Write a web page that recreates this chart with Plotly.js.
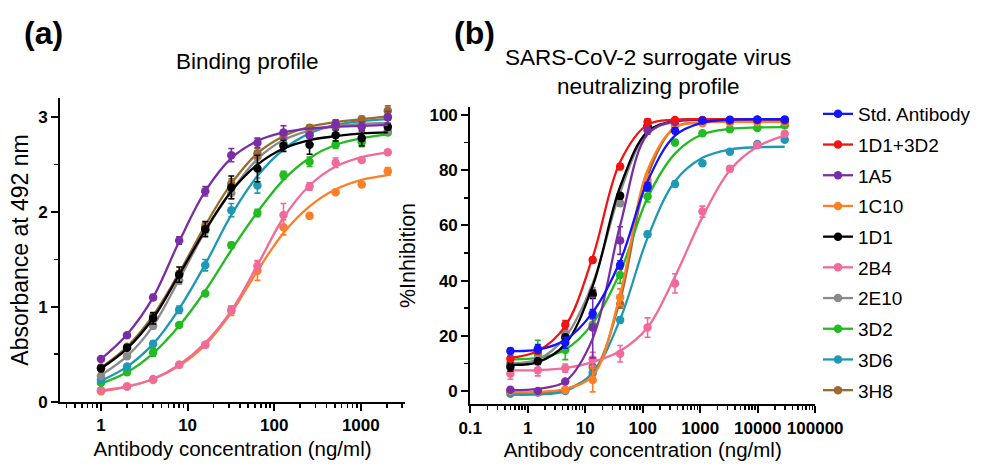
<!DOCTYPE html>
<html>
<head>
<meta charset="utf-8">
<script src="https://cdn.plot.ly/plotly-3.0.1.min.js"></script>
<style>html,body{margin:0;padding:0;background:#fff;}#chart{width:986px;height:465px;}</style>
</head>
<body>
<div id="chart"></div>
<script>
// ---------- Data ----------
const seriesNames = ["Std. Antibody","1D1+3D2","1A5","1C10","1D1","2B4","2E10","3D2","3D6","3H8"];
const seriesColors = ["#1414ff","#f01414","#7a2ea6","#ff7f27","#000000","#f06a9c","#8a8a8a","#22bb22","#1f98b4","#9c6a2e"];

// Panel (a): binding profile (absorbance at 492 nm)
const concA = [1,2,4,8,16,32,64,128,256,512,1024,2048];
const tickValsA = [1,10,100,1000];
const tickTextA = ["1","10","100","1000"];
// measured means
const absA = {
  "1A5":  [0.45,0.70,1.10,1.70,2.22,2.60,2.73,2.84,2.81,2.92,2.90,3.00],
  "3H8":  [0.36,0.58,0.90,1.35,1.85,2.30,2.62,2.82,2.89,2.94,2.98,3.07],
  "2E10": [0.27,0.48,0.80,1.28,1.80,2.20,2.58,2.78,2.87,2.90,2.93,2.86],
  "1D1":  [0.35,0.57,0.88,1.34,1.82,2.26,2.46,2.70,2.71,2.81,2.78,2.90],
  "3D6":  [0.23,0.37,0.61,0.97,1.44,2.02,2.28,2.72,2.84,2.91,2.95,3.00],
  "3D2":  [0.20,0.31,0.52,0.81,1.14,1.65,1.99,2.39,2.53,2.71,2.74,2.84],
  "2B4":  [0.12,0.16,0.24,0.39,0.60,0.97,1.43,1.97,2.27,2.52,2.55,2.63],
  "1C10": [0.11,0.16,0.23,0.39,0.60,0.96,1.38,1.84,1.96,2.21,2.29,2.43]
};
const errA = {
  "1A5":  [0.02,0.02,0.03,0.04,0.05,0.07,0.05,0.07,0.03,0.05,0.05,0.06],
  "3H8":  [0.02,0.02,0.03,0.03,0.04,0.05,0.05,0.04,0.03,0.03,0.03,0.05],
  "2E10": [0.02,0.02,0.03,0.04,0.05,0.06,0.06,0.05,0.04,0.04,0.04,0.03],
  "1D1":  [0.03,0.03,0.06,0.08,0.08,0.12,0.14,0.06,0.10,0.06,0.08,0.03],
  "3D6":  [0.02,0.02,0.03,0.04,0.06,0.07,0.08,0.05,0.03,0.04,0.04,0.03],
  "3D2":  [0.02,0.02,0.04,0.02,0.02,0.03,0.04,0.04,0.05,0.04,0.05,0.02],
  "2B4":  [0.01,0.01,0.01,0.02,0.02,0.04,0.06,0.12,0.04,0.05,0.02,0.02],
  "1C10": [0.01,0.01,0.01,0.02,0.02,0.05,0.10,0.08,0.02,0.02,0.02,0.04]
};
// fitted curve values read at the same concentrations
const fitA = {
  "1A5":  [0.45,0.71,1.10,1.69,2.22,2.57,2.75,2.84,2.88,2.90,2.91,2.92],
  "3H8":  [0.36,0.58,0.91,1.36,1.86,2.30,2.62,2.80,2.90,2.95,2.98,3.01],
  "2E10": [0.28,0.48,0.80,1.29,1.80,2.22,2.56,2.76,2.86,2.91,2.93,2.94],
  "1D1":  [0.35,0.56,0.88,1.34,1.81,2.22,2.50,2.67,2.76,2.80,2.83,2.84],
  "3D6":  [0.22,0.37,0.61,0.98,1.45,1.97,2.38,2.66,2.83,2.92,2.96,2.98],
  "3D2":  [0.19,0.31,0.51,0.80,1.17,1.60,2.00,2.34,2.57,2.71,2.78,2.82],
  "2B4":  [0.12,0.16,0.24,0.39,0.62,0.96,1.44,1.94,2.28,2.48,2.58,2.63],
  "1C10": [0.11,0.16,0.24,0.38,0.60,0.94,1.38,1.78,2.06,2.24,2.34,2.39]
};
const drawOrderA = ["1C10","2B4","3D2","3D6","2E10","3H8","1D1","1A5"];

// Panel (b): surrogate virus neutralization (% inhibition)
const concB = [0.5,1.5,4.5,13.5,40.5,121.5,364.5,1093.5,3280.5,9841.5,29524.5];
const tickValsB = [0.1,1,10,100,1000,10000,100000];
const tickTextB = ["0.1","1","10","100","1000","10000","100000"];
const inhB = {
  "Std. Antibody": [14.5,15.3,17.5,28.0,45.7,74.0,94.3,98.0,98.3,98.4,98.4],
  "1D1+3D2":       [11.7,14.6,24.0,47.5,81.3,97.5,98.2,98.2,98.2,98.2,98.0],
  "1A5":           [0.5,0.0,3.5,23.0,54.5,94.5,97.5,98.0,98.0,98.2,98.2],
  "1C10":          [0.0,-0.2,0.4,4.0,34.0,76.5,96.0,97.0,97.3,97.5,97.5],
  "1D1":           [8.7,10.8,19.5,35.0,70.7,95.8,97.8,98.0,98.0,98.0,98.0],
  "2B4":           [6.3,7.5,8.3,11.5,13.5,23.0,39.0,65.0,80.5,89.0,93.2],
  "2E10":          [9.5,11.5,21.0,36.0,68.0,96.0,97.8,98.0,98.0,98.0,98.0],
  "3D2":           [10.0,13.4,14.9,24.0,42.0,70.5,90.0,93.4,94.8,95.3,96.3],
  "3D6":           [-1.0,-0.5,0.0,6.5,25.7,56.8,75.0,82.5,86.7,89.5,91.0],
  "3H8":           [0.0,-0.3,0.5,8.7,31.5,75.0,96.5,97.3,97.5,97.6,97.6]
};
const errB = {
  "Std. Antibody": [1.0,1.5,2.0,1.5,1.5,1.5,1.0,0.5,0.5,0.5,0.5],
  "1D1+3D2":       [1.0,1.0,1.5,1.0,1.0,1.0,0.5,0.5,0.5,0.5,0.5],
  "1A5":           [0.5,0.5,0.5,11.0,5.0,1.5,0.5,0.5,0.5,0.5,0.5],
  "1C10":          [0.5,0.5,0.5,4.3,3.0,2.0,1.0,0.5,0.5,0.5,0.5],
  "1D1":           [1.5,1.0,1.0,1.5,1.0,0.5,0.5,0.5,0.5,0.5,0.5],
  "2B4":           [2.0,2.0,1.5,2.5,3.0,3.5,3.5,2.0,1.0,0.5,0.5],
  "2E10":          [1.0,1.0,1.5,1.5,1.0,0.5,0.5,0.5,0.5,0.5,0.5],
  "3D2":           [1.5,5.0,3.5,2.0,3.0,2.0,1.0,0.5,0.5,0.5,0.5],
  "3D6":           [0.5,0.5,0.5,1.0,1.0,1.0,1.0,0.5,0.5,0.5,0.5],
  "3H8":           [0.5,0.5,0.5,1.0,1.5,1.5,0.5,0.5,0.5,0.5,0.5]
};
const fitB = {
  "Std. Antibody": [14.5,15.0,18.5,28.5,47.0,76.0,92.5,97.2,98.3,98.5,98.5],
  "1D1+3D2":       [12.0,14.5,23.5,48.5,83.0,96.5,98.3,98.5,98.5,98.5,98.5],
  "1A5":           [0.3,0.8,3.5,19.0,60.0,93.0,97.8,98.3,98.4,98.4,98.4],
  "1C10":          [-0.5,-0.3,0.8,5.5,35.0,80.0,95.5,97.3,97.5,97.5,97.5],
  "1D1":           [9.5,10.5,17.0,38.0,74.0,94.0,97.8,98.3,98.4,98.4,98.4],
  "2B4":           [7.5,7.6,8.3,10.5,14.5,23.0,41.5,63.0,80.0,88.5,92.5],
  "2E10":          [10.0,11.5,19.5,39.0,72.0,93.5,97.5,98.2,98.4,98.4,98.4],
  "3D2":           [11.5,12.0,15.0,24.5,43.0,70.0,86.0,93.0,95.0,95.5,95.6],
  "3D6":           [-1.3,-1.2,0.0,6.5,26.0,55.5,76.0,84.5,87.5,88.3,88.5],
  "3H8":           [-0.8,-0.5,0.5,6.5,33.0,78.0,95.5,97.3,97.6,97.6,97.6]
};

// ---------- Build ----------
const FONT = "Liberation Sans, Arial, Helvetica, sans-serif";
const colorOf = n => seriesColors[seriesNames.indexOf(n)];
function curve(name, x, y, xa, ya) {
  return {type: "scatter", mode: "lines", x: x, y: y, xaxis: xa, yaxis: ya, showlegend: false,
    line: {color: colorOf(name), width: 2.3, shape: "spline", smoothing: 1}, hoverinfo: "skip"};
}
function points(name, x, y, err, xa, ya) {
  const c = colorOf(name);
  return {type: "scatter", mode: "markers", x: x, y: y, xaxis: xa, yaxis: ya, showlegend: false,
    marker: {color: c, size: 8.5, symbol: "circle"},
    error_y: {type: "data", array: err, visible: true, color: c, thickness: 1.6, width: 3},
    cliponaxis: false, hoverinfo: "skip"};
}
const traces = [];
drawOrderA.forEach(n => {
  traces.push(curve(n, concA, fitA[n], "x", "y"));
  traces.push(points(n, concA, absA[n], errA[n], "x", "y"));
});
seriesNames.slice().reverse().forEach(n => {
  traces.push(curve(n, concB, fitB[n], "x2", "y2"));
  traces.push(points(n, concB, inhB[n], errB[n], "x2", "y2"));
});
// legend entries (line + marker), one per antibody
seriesNames.forEach(n => traces.push({
  type: "scatter", mode: "lines+markers", name: n, x: [null], y: [null], xaxis: "x2", yaxis: "y2",
  legendgroup: n, showlegend: true,
  line: {color: colorOf(n), width: 2.3}, marker: {color: colorOf(n), size: 8.5}
}));

const W = 986, H = 465;
const axisCommon = {
  showline: true, linecolor: "#000", linewidth: 2, mirror: false,
  ticks: "outside", ticklen: 7, tickwidth: 2, tickcolor: "#000",
  showgrid: false, zeroline: false, automargin: false,
  tickfont: {family: FONT, size: 17, color: "#000", weight: "bold"}
};
const minorTicks = d => ({ticks: "outside", ticklen: 4, tickwidth: 1.6, tickcolor: "#000", dtick: d, showgrid: false});
const titleFont = {family: FONT, size: 20.5, color: "#000"};

const layout = {
  width: W, height: H,
  margin: {l: 0, r: 0, t: 0, b: 0},
  paper_bgcolor: "#fff", plot_bgcolor: "rgba(0,0,0,0)",
  showlegend: true,
  legend: {
    x: 818 / W, y: 1 - 95 / H, xanchor: "left", yanchor: "top",
    traceorder: "grouped", tracegroupgap: 3,
    font: {family: FONT, size: 19, color: "#000"}, bgcolor: "rgba(0,0,0,0)"
  },
  xaxis: Object.assign({}, axisCommon, {
    type: "log", domain: [60 / W, 405 / W], range: [-0.473, 3.51], anchor: "y",
    tickvals: tickValsA, ticktext: tickTextA, minor: minorTicks("D1"),
    title: {text: "Antibody concentration (ng/ml)", font: titleFont, standoff: 8}
  }),
  yaxis: Object.assign({}, axisCommon, {
    domain: [1 - 401.7 / H, 1 - 98.3 / H], range: [0, 3.2], anchor: "x",
    tickvals: [0, 1, 2, 3], minor: minorTicks(0.5),
    title: {text: "Absorbance at 492 nm", font: {family: FONT, size: 23, color: "#000"}, standoff: 3}
  }),
  xaxis2: Object.assign({}, axisCommon, {
    type: "log", domain: [470.2 / W, 815.2 / W], range: [-1, 5], anchor: "y2",
    tickvals: tickValsB, ticktext: tickTextB, minor: minorTicks("D1"),
    title: {text: "Antibody concentration (ng/ml)", font: titleFont, standoff: 6}
  }),
  yaxis2: Object.assign({}, axisCommon, {
    domain: [1 - 404.3 / H, 1 - 106.7 / H], range: [-4.8, 103], anchor: "x2",
    tickvals: [0, 20, 40, 60, 80, 100], minor: minorTicks(10),
    title: {text: "%Inhibition", font: {family: FONT, size: 21.5, color: "#000"}, standoff: 8}
  }),
  annotations: [
    {text: "<b>(a)</b>", x: 43 / W, y: 1 - 33 / H, xref: "paper", yref: "paper", showarrow: false,
     xanchor: "center", yanchor: "middle", font: {family: FONT, size: 32, color: "#000"}},
    {text: "<b>(b)</b>", x: 474 / W, y: 1 - 33 / H, xref: "paper", yref: "paper", showarrow: false,
     xanchor: "center", yanchor: "middle", font: {family: FONT, size: 32, color: "#000"}},
    {text: "Binding profile", x: 247 / W, y: 1 - 62 / H, xref: "paper", yref: "paper", showarrow: false,
     xanchor: "center", yanchor: "middle", font: {family: FONT, size: 22.5, color: "#000"}},
    {text: "SARS-CoV-2 surrogate virus<br>neutralizing profile", x: 648 / W, y: 1 - 71.5 / H, xref: "paper", yref: "paper",
     showarrow: false, xanchor: "center", yanchor: "middle", font: {family: FONT, size: 22.5, color: "#000"}}
  ]
};

Plotly.newPlot("chart", traces, layout, {displayModeBar: false, staticPlot: true});
</script>
</body>
</html>
